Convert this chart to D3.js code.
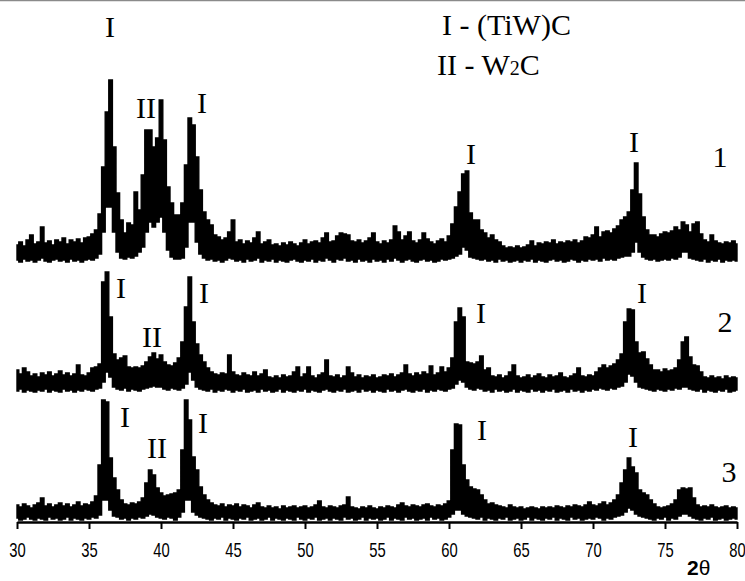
<!DOCTYPE html>
<html>
<head>
<meta charset="utf-8">
<script src="https://cdnjs.cloudflare.com/ajax/libs/d3/7.8.5/d3.min.js"></script>
<style>
  body { margin: 0; background: #fff; }
  svg { display: block; }
</style>
</head>
<body>
<div id="chart"></div>
<script>
// 2theta grid: 30 .. 80 step 0.25
const thetaStart = 30, thetaStep = 0.25;

// upper / lower envelope of each pattern (arbitrary units above its own baseline)
const trace1Hi = [
  17,20,16,22,27,18,20,35,19,21,17,22,20,24,18,22,20,23,19,24,
  25,28,32,48,95,150,182,115,69,42,29,39,37,70,52,87,132,132,115,124,
  162,122,75,59,47,47,59,97,144,137,105,72,50,42,37,27,25,22,24,30,
  42,20,22,18,21,19,24,30,18,20,22,17,18,16,19,17,20,18,16,19,
  22,18,20,21,19,24,29,20,21,26,29,28,27,21,20,22,19,21,24,29,
  20,18,21,19,22,36,30,22,26,30,21,19,22,29,23,20,18,21,23,20,
  26,38,55,70,88,91,49,42,42,32,29,24,27,22,20,16,14,15,14,16,
  14,15,17,21,16,19,18,20,19,22,18,20,19,21,20,22,19,21,25,24,
  27,35,25,30,31,29,33,36,42,45,50,72,99,68,45,32,27,27,25,28,
  30,29,31,35,32,40,37,30,38,40,28,22,20,27,21,19,18,20,19,21,
  18
];
const trace1Lo = [
  2,0,3,1,2,0,2,4,1,0,2,3,1,2,0,3,1,2,0,2,
  3,2,4,8,30,55,55,30,10,4,3,5,4,6,10,15,30,40,35,40,
  45,30,12,5,3,3,4,15,40,40,20,8,4,2,3,1,2,0,2,4,
  3,1,2,0,3,1,2,4,0,2,1,3,0,2,1,0,2,3,1,0,
  2,1,3,0,2,1,4,2,0,3,2,4,1,2,0,3,1,2,0,3,
  1,2,0,3,1,4,2,0,2,3,1,0,2,3,1,2,0,1,3,2,
  3,4,6,8,15,12,5,4,3,2,3,1,2,0,3,1,2,0,1,2,
  0,2,1,3,0,2,1,0,2,3,1,2,0,1,3,2,0,2,1,3,
  2,3,1,4,2,3,2,4,5,6,6,10,20,10,5,3,2,3,1,2,
  3,2,4,3,5,10,10,4,3,2,1,3,0,2,1,3,0,2,1,2,
  1
];
const trace2Hi = [
  22,18,24,20,16,18,15,19,17,20,16,18,21,17,19,16,18,27,17,16,
  19,24,25,28,110,120,75,38,32,34,36,25,24,25,24,26,30,35,39,33,
  37,30,27,26,29,34,50,85,115,70,48,37,30,24,20,18,17,19,18,37,
  20,17,16,19,17,16,20,16,18,22,15,14,16,14,17,15,16,20,25,15,
  18,25,16,14,17,19,32,16,15,17,14,16,25,19,15,17,14,16,15,17,
  14,15,17,16,18,15,17,19,27,18,16,19,17,20,18,26,17,19,25,20,
  24,34,70,84,75,30,29,28,30,36,22,24,16,15,17,14,16,20,27,16,
  14,15,17,14,16,18,15,14,17,15,16,19,15,14,16,18,24,16,15,17,
  16,20,24,27,24,26,28,32,38,70,83,82,50,39,40,33,27,22,22,20,
  23,21,22,24,32,50,55,35,27,26,20,15,14,16,14,15,13,16,14,15,
  14
];
const trace2Lo = [
  1,3,0,2,1,0,2,1,3,0,2,1,0,3,1,2,0,2,1,3,
  2,1,3,4,10,20,15,5,3,2,4,1,3,2,1,3,4,5,6,5,
  5,3,2,4,3,2,4,8,20,12,5,3,2,1,3,0,2,1,3,2,
  0,2,1,3,0,1,2,0,3,1,2,0,1,3,0,2,1,0,2,1,
  3,0,2,1,0,2,3,1,0,2,1,3,0,1,2,0,3,1,2,0,
  2,1,0,3,1,2,0,2,3,1,0,2,1,3,0,2,1,3,2,1,
  3,4,8,12,10,5,3,2,4,3,1,2,0,3,1,2,0,1,3,0,
  2,1,0,3,1,2,0,2,1,3,0,1,2,0,3,1,2,0,2,1,
  3,2,4,3,2,4,3,5,6,10,18,16,10,5,4,3,2,1,3,2,
  1,3,2,4,3,5,5,3,2,1,3,0,2,1,0,2,1,3,0,1,
  2
];
const trace3Hi = [
  15,13,16,14,12,15,17,22,14,16,13,15,17,14,16,13,15,18,14,16,
  15,18,24,55,120,118,62,42,30,20,16,15,17,16,18,22,37,50,45,32,
  27,24,25,26,27,30,70,120,100,63,50,33,25,20,17,15,14,16,13,15,
  14,16,13,15,14,12,15,17,13,12,14,12,13,11,14,12,13,14,12,13,
  14,12,13,15,19,13,12,14,13,12,14,15,23,13,12,11,13,12,14,12,
  11,13,12,14,13,12,15,17,14,13,15,14,13,15,16,14,13,15,14,16,
  19,70,96,95,55,40,33,31,30,25,20,16,17,15,14,13,12,15,13,12,
  13,11,12,13,12,11,13,12,13,12,14,13,12,14,13,15,14,13,15,18,
  15,14,16,18,15,17,20,25,37,50,62,53,47,30,27,25,20,16,13,12,
  13,14,16,20,30,32,31,32,22,15,13,14,13,15,13,12,13,14,12,13,
  12
];
const trace3Lo = [
  2,0,1,3,1,0,2,1,0,3,1,2,0,1,3,0,2,1,0,2,
  1,3,2,5,20,20,10,4,3,1,2,0,2,1,3,2,4,6,5,3,
  2,1,3,2,0,3,8,20,20,8,5,3,2,1,0,2,1,3,0,2,
  1,0,2,1,3,0,1,2,0,1,3,0,2,1,0,2,1,0,3,1,
  0,2,1,3,0,1,2,0,2,1,0,3,1,2,0,1,3,0,2,1,
  2,0,1,3,0,2,1,0,3,1,2,0,1,2,0,3,1,2,0,1,
  3,6,10,10,6,4,3,2,1,3,0,2,1,0,2,1,3,0,1,2,
  0,1,3,0,2,1,0,2,1,3,0,2,1,0,3,1,2,0,1,2,
  1,3,2,0,2,1,3,4,5,8,12,10,6,4,3,2,1,0,2,1,
  3,0,2,1,4,6,6,4,2,1,0,2,1,3,0,1,2,0,1,2,
  1
];

// vertical offset of each pattern
const traceOffsets = [258, 128, 0];

const xTicks = [30, 35, 40, 45, 50, 55, 60, 65, 70, 75, 80];

// peak markers: [trace index, 2theta, height above baseline, text]
const peakLabels = [
  [0, 36.46, 225, "I"], [0, 38.96, 144, "II"], [0, 42.85, 149, "I"],
  [0, 61.53, 98, "I"], [0, 72.85, 110, "I"], [0, 78.82, 95, "1"],
  [1, 37.22, 94, "I"], [1, 39.38, 45, "II"], [1, 42.99, 89, "I"],
  [1, 62.22, 69, "I"], [1, 73.40, 89, "I"], [1, 79.17, 60, "2"],
  [2, 37.50, 93, "I"], [2, 39.72, 62, "II"], [2, 42.92, 87, "I"],
  [2, 62.29, 80, "I"], [2, 72.78, 73, "I"], [2, 79.44, 38, "3"]
];

const width = 745, height = 581;

const svg = d3.select("#chart").append("svg")
  .attr("width", width)
  .attr("height", height);

// thin frame line at the very top
svg.append("line")
  .attr("x1", 0).attr("x2", width)
  .attr("y1", 0.5).attr("y2", 0.5)
  .attr("stroke", "#8a8a8a").attr("stroke-width", 1.5);

const x = d3.scaleLinear().domain([30, 80]).range([17, 737]);
const y = d3.scaleLinear().domain([0, 520]).range([520, 0]);

const traces = [[trace1Hi, trace1Lo], [trace2Hi, trace2Lo], [trace3Hi, trace3Lo]];

traces.forEach(([hi, lo], k) => {
  if (hi.length !== 201 || lo.length !== 201) throw new Error("trace " + k + " length " + hi.length + "/" + lo.length);
  const off = traceOffsets[k];
  const pts = hi.map((v, i) => ({ t: thetaStart + i * thetaStep, hi: v, lo: lo[i] }));
  const area = d3.area()
    .x(d => x(d.t))
    .y0(d => y(off + d.lo))
    .y1(d => y(off + d.hi))
    .curve(d3.curveStep);
  svg.append("path")
    .datum(pts)
    .attr("d", area)
    .attr("fill", "#000")
    .attr("stroke", "#000")
    .attr("stroke-width", 1.4)
    .attr("stroke-linejoin", "miter");
});

// x axis
const axis = svg.append("g")
  .attr("transform", "translate(0,522)")
  .call(d3.axisBottom(x).tickValues(xTicks).tickSize(7).tickSizeOuter(0).tickFormat(d3.format("d")));
axis.select(".domain").attr("stroke", "#000").attr("stroke-width", 2.5);
axis.selectAll(".tick line").attr("stroke", "#000").attr("stroke-width", 2);
// condensed tick labels (scaled about the tick position)
axis.selectAll(".tick text")
  .attr("y", 35).attr("dy", 0).attr("x", 0)
  .attr("transform", "scale(0.74,1)")
  .style("font-family", "'Liberation Sans', Arial, sans-serif")
  .style("font-size", "20px")
  .attr("fill", "#000");

// 2theta title
const title = svg.append("text")
  .attr("x", 687).attr("y", 575)
  .style("font-family", "'Liberation Sans', Arial, sans-serif")
  .style("font-size", "21px")
  .attr("fill", "#000");
title.append("tspan").style("font-weight", "bold").text("2");
title.append("tspan").text("θ");

// peak labels
svg.append("g").selectAll("text")
  .data(peakLabels)
  .join("text")
  .attr("x", d => x(d[1]))
  .attr("y", d => y(traceOffsets[d[0]] + d[2]))
  .attr("text-anchor", "middle")
  .style("font-family", "'Liberation Serif', 'Times New Roman', serif")
  .style("font-size", "30px")
  .attr("fill", "#000")
  .text(d => d[3]);

// legend
const legend = svg.append("g")
  .style("font-family", "'Liberation Serif', 'Times New Roman', serif")
  .style("font-size", "30px")
  .attr("fill", "#000");
legend.append("text").attr("x", 442).attr("y", 35).text("I - (TiW)C");
const l2 = legend.append("text").attr("x", 437).attr("y", 75);
l2.append("tspan").text("II - W");
l2.append("tspan").style("font-size", "20px").text("2");
l2.append("tspan").text("C");
</script>
</body>
</html>
